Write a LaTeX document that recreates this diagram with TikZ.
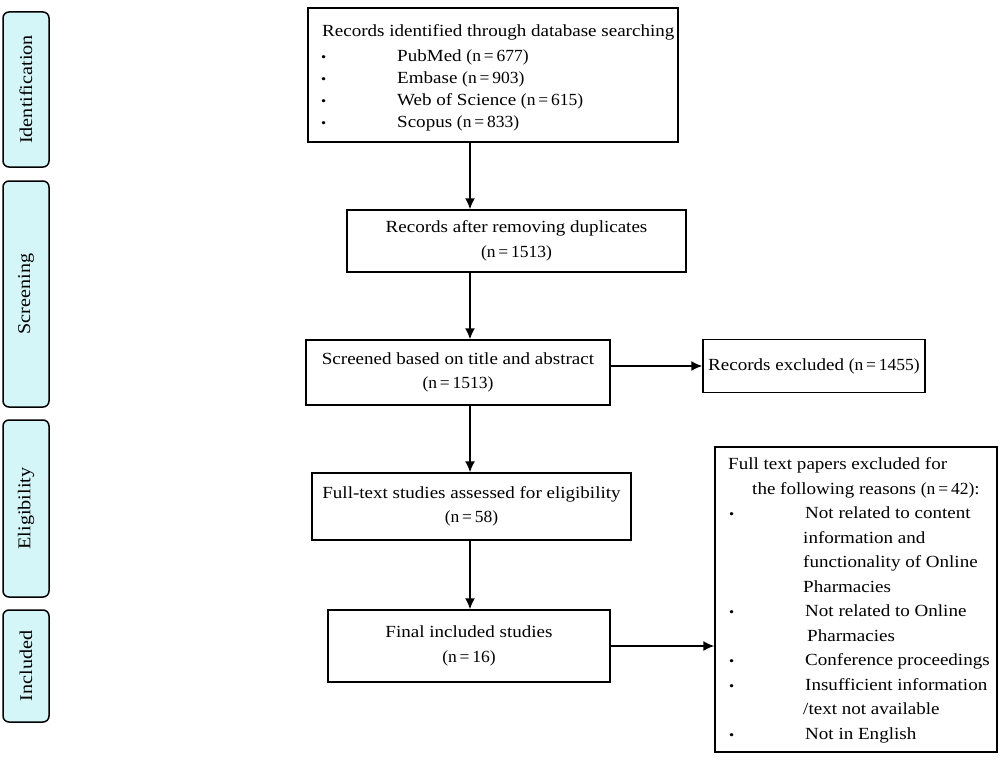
\documentclass[tikz,border=0pt]{standalone}
\usepackage{fontspec}
\setmainfont{Liberation Serif}[FakeStretch=1.12]
\newfontfamily\nf{Liberation Serif}[FakeStretch=1.03]
\usetikzlibrary{arrows.meta}
\definecolor{phasecol}{RGB}{212,246,249}
\newcommand\fs{\fontsize{17}{24.5}\selectfont}
\newcommand\fsp{\fontsize{18}{24.5}\selectfont}
\newcommand\bul{{\fontsize{13}{13}\selectfont\textbullet}}
\newcommand\nn[1]{{\nf(n\,=\,#1)}}
\begin{document}
\begin{tikzpicture}[x=1pt,y=-1pt,
  box/.style={draw,line width=1.5pt,rectangle,inner sep=0pt,align=center,font=\fs},
  phase/.style={draw,line width=1.5pt,rounded corners=6pt,fill=phasecol,inner sep=0pt,font=\fsp},
  txt/.style={inner sep=0pt,font=\fs,anchor=west,text height=12pt,text depth=4pt},
  arr/.style={line width=1.5pt,-{Latex[length=11pt,width=10pt]}}]
\useasboundingbox (0,0) rectangle (1000,760);
% phases
\node[phase,rotate=90,minimum width=155pt,minimum height=46pt] (ph1) at (26,89.5) {Identification};
\node[phase,rotate=90,minimum width=226pt,minimum height=46pt] (ph2) at (26,294) {Screening};
\node[phase,rotate=90,minimum width=177pt,minimum height=46pt] (ph3) at (26,508.5) {Eligibility};
\node[phase,rotate=90,minimum width=112pt,minimum height=46pt] (ph4) at (26,666) {Included};
% boxes
\node[box,minimum width=370pt,minimum height=134pt] (b1) at (493,75) {};
\node[txt] (t1a) at (322,33) {Records identified through database searching};
\node[txt] (t1b) at (321,57) {\bul};
\node[txt] (t1c) at (397,57) {PubMed \nn{677}};
\node[txt] (t1d) at (321,79) {\bul};
\node[txt] (t1e) at (397,79) {Embase \nn{903}};
\node[txt] (t1f) at (321,101) {\bul};
\node[txt] (t1g) at (397,101) {Web of Science \nn{615}};
\node[txt] (t1h) at (321,123) {\bul};
\node[txt] (t1i) at (397,123) {Scopus \nn{833}};
\node[box,minimum width=339pt,minimum height=62pt] (b2) at (516.5,241) {Records after removing duplicates\\\nn{1513}};
\node[box,minimum width=304pt,minimum height=65pt] (b3) at (458,372.5) {Screened based on title and abstract\\\nn{1513}};
\node[box,minimum width=222pt,minimum height=53pt] (b4) at (814,366) {Records excluded \nn{1455}};
\node[box,minimum width=319pt,minimum height=67pt] (b5) at (471.5,506.5) {Full-text studies assessed for eligibility\\\nn{58}};
\node[box,minimum width=282pt,minimum height=72pt] (b6) at (469,646) {Final included studies\\\nn{16}};
\node[box,minimum width=282pt,minimum height=305pt] (b7) at (856,599.5) {};
\node[txt] (t7a) at (728,465) {Full text papers excluded for};
\node[txt] (t7b) at (752,490) {the following reasons \nn{42}:};
\node[txt] (t7c) at (729,514) {\bul};
\node[txt] (t7d) at (805,514) {Not related to content};
\node[txt] (t7e) at (803,539) {information and};
\node[txt] (t7f) at (803,563) {functionality of Online};
\node[txt] (t7g) at (803,588) {Pharmacies};
\node[txt] (t7h) at (729,612) {\bul};
\node[txt] (t7i) at (805,612) {Not related to Online};
\node[txt] (t7j) at (807,637) {Pharmacies};
\node[txt] (t7k) at (729,661) {\bul};
\node[txt] (t7l) at (805,661) {Conference proceedings};
\node[txt] (t7m) at (729,686) {\bul};
\node[txt] (t7n) at (805,686) {Insufficient information};
\node[txt] (t7o) at (803,710) {/text not available};
\node[txt] (t7p) at (729,735) {\bul};
\node[txt] (t7q) at (805,735) {Not in English};
% arrows
\coordinate (ax) at (470,0);
\draw[arr] (b1.south -| ax) -- (b2.north -| ax);
\draw[arr] (b2.south -| ax) -- (b3.north -| ax);
\draw[arr] (b3.south -| ax) -- (b5.north -| ax);
\draw[arr] (b5.south -| ax) -- (b6.north -| ax);
\draw[arr] (b3.east |- b4.west) -- (b4.west);
\draw[arr] (b6.east) -- (b6.east -| b7.west);
\end{tikzpicture}
\end{document}
